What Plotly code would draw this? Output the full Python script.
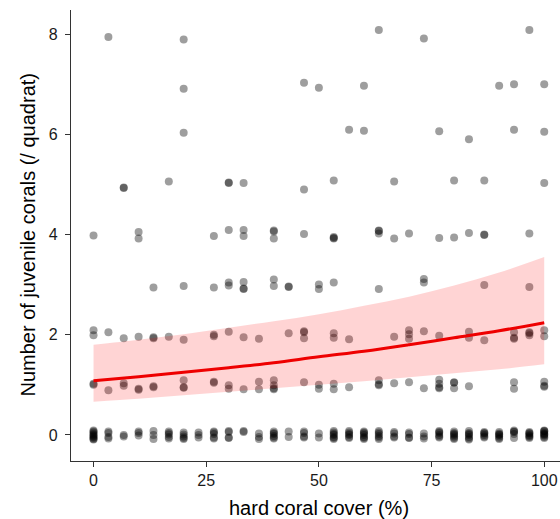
import plotly.graph_objects as go

# Juvenile coral counts per quadrat, grouped by count; each entry is
# (hard coral cover %, plotted count with vertical jitter)
count_0 = (
    [(0, v) for v in [0.09, 0.07, 0.05, 0.02, 0.00, -0.02, -0.04, -0.06, -0.08, -0.09]]
    + [(3.3, v) for v in [0.07, 0.04, -0.04, -0.07]]
    + [(6.7, v) for v in [0.00, -0.03]]
    + [(10, v) for v in [0.07, 0.04, -0.01]]
    + [(13.3, v) for v in [0.08, 0.00, -0.08]]
    + [(16.7, v) for v in [0.07, 0.04, 0.01, -0.04, -0.07]]
    + [(20, v) for v in [0.05, 0.01, -0.03, -0.06, -0.08]]
    + [(23.3, v) for v in [0.05, 0.00, -0.05]]
    + [(26.7, v) for v in [0.07, 0.05, 0.02, -0.05, -0.07]]
    + [(30, v) for v in [0.08, 0.06, -0.05, -0.06]]
    + [(33.3, v) for v in [0.08, 0.06]]
    + [(36.7, v) for v in [0.03, -0.04, -0.08]]
    + [(40, v) for v in [0.07, 0.04, 0.02, -0.02, -0.05, -0.07]]
    + [(43.3, v) for v in [0.07, -0.04]]
    + [(46.7, v) for v in [0.07, 0.04, -0.03, -0.05]]
    + [(50, v) for v in [0.03, -0.05]]
    + [(53.3, v) for v in [0.08, 0.05, 0.02, 0.00, -0.04, -0.06, -0.08]]
    + [(56.7, v) for v in [0.08, 0.05, 0.02, 0.00, -0.04, -0.06]]
    + [(60, v) for v in [0.07, 0.05, 0.03, 0.00, -0.04, -0.06, -0.08]]
    + [(63.3, v) for v in [0.08, 0.05, 0.02, -0.02, -0.05, -0.08]]
    + [(66.7, v) for v in [0.06, 0.03, -0.03, -0.05]]
    + [(70, v) for v in [0.05, 0.02, -0.05, -0.06]]
    + [(73.3, v) for v in [0.03, -0.03, -0.07]]
    + [(76.7, v) for v in [0.08, 0.06, 0.04, 0.00, -0.03, -0.05]]
    + [(80, v) for v in [0.07, 0.04, 0.02, 0.00, -0.03, -0.06, -0.08]]
    + [(83.3, v) for v in [0.08, 0.04, 0.02, 0.00, -0.04, -0.07, -0.09]]
    + [(86.7, v) for v in [0.06, 0.04, 0.03, 0.00, -0.03, -0.05]]
    + [(90, v) for v in [0.06, 0.03, 0.01, 0.00, -0.03, -0.06, -0.08]]
    + [(93.3, v) for v in [0.09, 0.07, 0.06, 0.02, -0.06]]
    + [(96.7, v) for v in [0.06, 0.04, 0.03, 0.00, -0.02, -0.04, -0.06]]
    + [(100, v) for v in [0.09, 0.08, 0.07, 0.04, 0.02, 0.01, -0.01, -0.04, -0.06]]
)

count_1 = [
    (0, 1.02), (0, 1.00), (3.3, 0.89), (6.7, 1.03), (6.7, 0.98),
    (10, 0.92), (10, 0.90), (13.3, 0.97), (13.3, 0.95),
    (20, 1.09), (20, 0.95), (20, 0.94), (26.7, 1.06), (26.7, 1.04),
    (30, 0.99), (30, 0.92), (33.3, 0.91), (36.7, 1.06), (36.7, 0.91),
    (40, 1.09), (40, 0.99), (40, 0.93), (40, 0.91), (46.7, 1.05),
    (50, 1.00), (50, 0.92), (53.3, 1.02), (53.3, 0.91), (56.7, 0.95),
    (63.3, 1.09), (63.3, 1.01), (63.3, 0.99), (66.7, 1.03), (70, 1.05),
    (73.3, 0.93), (76.7, 1.10), (76.7, 1.02), (76.7, 0.95), (76.7, 0.93),
    (80, 1.05), (80, 1.04), (80, 0.93), (83.3, 0.97),
    (93.3, 1.05), (93.3, 0.92), (100, 1.06), (100, 0.98), (100, 0.96),
]

count_2 = [
    (0, 2.09), (0, 1.99), (3.3, 2.05), (6.7, 1.93), (10, 1.96),
    (13.3, 1.95), (13.3, 1.93), (16.7, 1.96), (20, 1.90),
    (26.7, 2.00), (26.7, 1.97), (30, 2.06), (33.3, 1.95), (36.7, 1.92),
    (43.3, 2.03), (46.7, 2.07), (46.7, 2.05), (46.7, 1.93),
    (53.3, 2.03), (53.3, 1.94), (56.7, 1.91), (66.7, 1.96),
    (70, 2.09), (70, 2.01), (70, 1.92), (73.3, 2.07), (76.7, 1.98),
    (83.3, 2.06), (83.3, 1.94), (86.7, 1.89),
    (93.3, 2.05), (93.3, 1.94), (93.3, 1.92),
    (96.7, 2.05), (96.7, 2.03), (96.7, 1.99), (100, 2.09), (100, 1.97),
]

count_3 = [
    (13.3, 2.94), (20, 2.97), (26.7, 2.94), (30, 3.04), (30, 2.98),
    (33.3, 3.05), (33.3, 2.92), (33.3, 2.91), (40, 3.10), (40, 2.97),
    (43.3, 2.96), (43.3, 2.95), (50, 3.00), (50, 2.91), (53.3, 3.04),
    (63.3, 2.91), (73.3, 3.11), (73.3, 3.04), (86.7, 2.99), (96.7, 2.95),
]

count_4 = [
    (0, 3.98), (10, 4.05), (10, 3.92), (26.7, 3.97), (30, 4.09),
    (33.3, 4.09), (33.3, 3.97), (40, 4.08), (40, 4.06), (40, 3.92),
    (46.7, 4.01), (53.3, 3.95), (53.3, 3.93), (53.3, 3.92),
    (63.3, 4.08), (63.3, 4.07), (63.3, 4.02), (66.7, 3.92), (70, 4.02),
    (76.7, 3.93), (80, 3.94), (83.3, 4.03), (86.7, 4.00), (86.7, 3.99),
    (96.7, 4.02),
]

count_5 = [
    (6.7, 4.94), (6.7, 4.93), (16.7, 5.06), (30, 5.04), (30, 5.03),
    (33.3, 5.03), (46.7, 4.90), (53.3, 5.08), (66.7, 5.06), (80, 5.08),
    (86.7, 5.08), (100, 5.03),
]

count_6 = [
    (20, 6.03), (56.7, 6.09), (60, 6.07), (76.7, 6.06), (83.3, 5.90),
    (93.3, 6.09), (100, 6.05),
]

count_7 = [
    (20, 6.91), (46.7, 7.03), (50, 6.93), (60, 6.97), (90, 6.97),
    (93.3, 7.00), (100, 7.00),
]

count_8 = [
    (3.3, 7.94), (20, 7.89), (63.3, 8.08), (73.3, 7.91), (96.7, 8.08),
]

# Fitted mean and 95% confidence band along hard coral cover
fit_cover = [0, 10, 20, 30, 40, 50, 60, 70, 80, 90, 100]
fit_mean = [1.08, 1.16, 1.25, 1.34, 1.44, 1.56, 1.67, 1.80, 1.94, 2.08, 2.24]
fit_upper = [1.80, 1.90, 2.01, 2.14, 2.27, 2.41, 2.58, 2.76, 2.98, 3.24, 3.55]
fit_lower = [0.66, 0.72, 0.79, 0.86, 0.93, 1.00, 1.07, 1.15, 1.23, 1.31, 1.41]

x_ticks = [0, 25, 50, 75, 100]
y_ticks = [0, 2, 4, 6, 8]

points = count_0 + count_1 + count_2 + count_3 + count_4 + count_5 + count_6 + count_7 + count_8
px = [p[0] for p in points]
py = [p[1] for p in points]

FONT = "Liberation Sans, Arial, sans-serif"

fig = go.Figure()

fig.add_trace(go.Scatter(
    x=px, y=py, mode="markers",
    marker=dict(size=8, color="rgba(0,0,0,0.38)", line=dict(width=0)),
    hoverinfo="skip", showlegend=False,
))

fig.add_trace(go.Scatter(
    x=fit_cover, y=fit_lower, mode="lines", line=dict(width=0, shape="spline"),
    hoverinfo="skip", showlegend=False,
))
fig.add_trace(go.Scatter(
    x=fit_cover, y=fit_upper, mode="lines", line=dict(width=0, shape="spline"),
    fill="tonexty", fillcolor="rgba(255,0,0,0.17)",
    hoverinfo="skip", showlegend=False,
))
fig.add_trace(go.Scatter(
    x=fit_cover, y=fit_mean, mode="lines",
    line=dict(color="#ee0000", width=3, shape="spline"),
    hoverinfo="skip", showlegend=False,
))

axis_common = dict(
    showgrid=False, zeroline=False, showline=True, linecolor="#333333", linewidth=1.2,
    ticks="outside", ticklen=5, tickwidth=1.2, tickcolor="#333333",
    tickfont=dict(family=FONT, size=16, color="#1a1a1a"),
)

fig.update_xaxes(range=[-5, 103.5], tickvals=x_ticks, ticktext=[str(t) for t in x_ticks],
                 automargin=False, **axis_common)
fig.update_yaxes(range=[-0.52, 8.48], tickvals=y_ticks, ticktext=[str(t) for t in y_ticks],
                 automargin=False, ticklabelstandoff=4, **axis_common)

fig.add_annotation(
    text="hard coral cover (%)", xref="x", yref="paper", x=50, y=0,
    yanchor="middle", yshift=-47, showarrow=False,
    font=dict(family=FONT, size=20, color="#000000"),
)
fig.add_annotation(
    text="Number of juvenile corals (/ quadrat)", xref="paper", yref="paper",
    x=0, y=0.5, xanchor="center", yanchor="middle", xshift=-44, textangle=-90,
    showarrow=False, font=dict(family=FONT, size=20, color="#000000"),
)

fig.update_layout(
    width=560, height=519,
    margin=dict(l=71, r=0, t=10, b=58),
    paper_bgcolor="white", plot_bgcolor="white",
)

fig.write_html("out.html")
